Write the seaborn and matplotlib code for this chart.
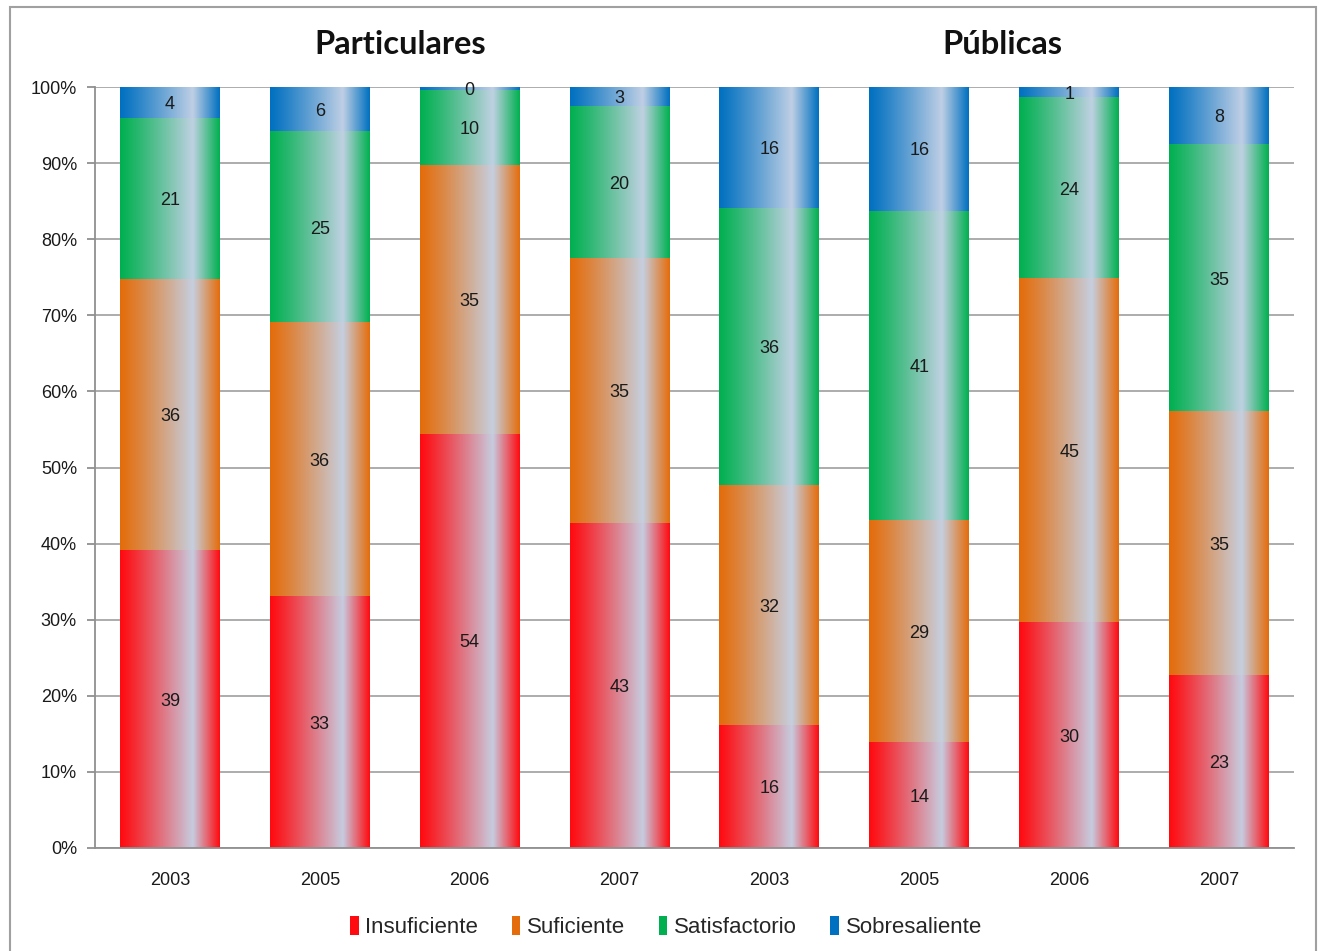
import numpy as np
import pandas as pd
import matplotlib
matplotlib.use("Agg")
import matplotlib.pyplot as plt
import seaborn as sns
from matplotlib.patches import Patch, Rectangle
from matplotlib.colors import to_rgb

# ---------------- data ----------------
groups = ["Particulares"] * 4 + ["Públicas"] * 4
years = ["2003", "2005", "2006", "2007", "2003", "2005", "2006", "2007"]
series_names = ["Insuficiente", "Suficiente", "Satisfactorio", "Sobresaliente"]
insuficiente = [39.1, 33.0, 54.4, 42.7, 16.1, 13.8, 29.6, 22.7]
suficiente = [35.6, 36.0, 35.3, 34.8, 31.6, 29.3, 45.2, 34.6]
satisfactorio = [21.2, 25.1, 9.9, 20.0, 36.3, 40.6, 23.8, 35.1]
sobresaliente = [4.1, 5.9, 0.4, 2.6, 16.0, 16.3, 1.4, 7.6]
series_colors = ["#FF0A0F", "#E46C0A", "#00B050", "#0070C0"]
light_color = "#C5D2E6"

# ---------------- frame ----------------
keys = [f"{g}|{y}" for g, y in zip(groups, years)]
vals = np.array([insuficiente, suficiente, satisfactorio, sobresaliente], dtype=float)
vals = vals / vals.sum(axis=0) * 100.0
cum = np.cumsum(vals, axis=0)
rows = []
for s_i, name in enumerate(series_names):
    for b_i, k in enumerate(keys):
        rows.append({"key": k, "series": name, "value": vals[s_i, b_i],
                     "cum": cum[s_i, b_i], "bottom": cum[s_i, b_i] - vals[s_i, b_i]})
df = pd.DataFrame(rows)

sns.set_theme(style="white")
plt.rcParams["font.family"] = ["Liberation Sans", "DejaVu Sans"]

W, H = 1319, 951
fig = plt.figure(figsize=(W / 100, H / 100), dpi=100)
ax = fig.add_axes([95 / W, 1 - 848 / H, (1294 - 95) / W, (848 - 87) / H])

def gradient_row(color, n=300):
    c = np.array(to_rgb(color))
    L = np.array(to_rgb(light_color))
    t = np.linspace(0, 1, n)
    peak = 0.73
    f = np.where(t <= peak, (t / peak) ** 1.1, 1 - (t - peak) / (1 - peak))
    f = np.clip(f, 0, 1) * 0.97
    rgb = c[None, :] * (1 - f[:, None]) + L[None, :] * f[:, None]
    return rgb[None, :, :]

bar_w = 100 / 149.9
z = 2
for s_i in range(3, -1, -1):
    name = series_names[s_i]
    sub = df[df["series"] == name]
    n_before = len(ax.patches)
    sns.barplot(data=sub, x="key", y="cum", order=keys, color=series_colors[s_i],
                saturation=1, width=bar_w, edgecolor="none", linewidth=0, ax=ax, zorder=z)
    new_patches = ax.patches[n_before:]
    img = gradient_row(series_colors[s_i])
    for p in new_patches:
        x0 = p.get_x()
        x1 = x0 + p.get_width()
        h = p.get_height()
        if h <= 0:
            continue
        ax.imshow(img, extent=[x0, x1, 0, h], aspect="auto", zorder=z + 0.5,
                  interpolation="bilinear", origin="lower")
    z += 1

# segment labels
for _, r in df.iterrows():
    xi = keys.index(r["key"])
    ax.text(xi, r["bottom"] + r["value"] / 2 - 0.25, f"{int(round(r['value']))}",
            ha="center", va="center", fontsize=13, color="#1a1a1a", zorder=20)

# axes styling
ax.set_xlim(-0.5, 7.5)
ax.set_ylim(0, 100)
ax.set_xlabel("")
ax.set_ylabel("")
ax.set_yticks(np.arange(0, 101, 10))
ax.set_yticklabels([f"{v}%" for v in range(0, 101, 10)], fontsize=13, color="#1a1a1a")
ax.set_xticks(range(8))
ax.set_xticklabels(years, fontsize=13, color="#1a1a1a")
ax.set_xticks(np.arange(-0.5, 8, 1), minor=True)
ax.tick_params(axis="x", which="major", length=0, pad=17)
ax.tick_params(axis="x", which="minor", length=6, width=1.3, color="#909090", direction="out")
ax.tick_params(axis="y", which="major", length=6, width=1.3, color="#909090", direction="out", pad=7, left=True)
ax.yaxis.grid(True, color="#A6A6A6", lw=1.3)
ax.set_axisbelow(True)
for sp in ["top", "right"]:
    ax.spines[sp].set_visible(False)
for sp in ["left", "bottom"]:
    ax.spines[sp].set_color("#909090")
    ax.spines[sp].set_linewidth(1.3)
    ax.spines[sp].set_zorder(25)

# group titles
fig.text(400 / W, 1 - 44 / H, "Particulares", ha="center", va="center",
         fontsize=23.5, fontweight="bold", family=["Lato", "DejaVu Sans"], color="#111111")
fig.text(1002 / W, 1 - 44 / H, "Públicas", ha="center", va="center",
         fontsize=23.5, fontweight="bold", family=["Lato", "DejaVu Sans"], color="#111111")

# legend
handles = [Patch(facecolor=c, edgecolor="none") for c in series_colors]
fig.legend(handles, series_names, loc="center", bbox_to_anchor=(666 / W, 1 - 927 / H),
           ncol=4, frameon=False, fontsize=16, handlelength=0.4, handleheight=0.9,
           handletextpad=0.3, columnspacing=1.5)

# chart border
fig.add_artist(Rectangle((9.5 / W, -0.05), (1315.5 - 9.5) / W, 1.05 - 7.5 / H,
                         transform=fig.transFigure, fill=False, edgecolor="#A0A0A0", lw=1.5))

fig.savefig("out.png", dpi=100)
